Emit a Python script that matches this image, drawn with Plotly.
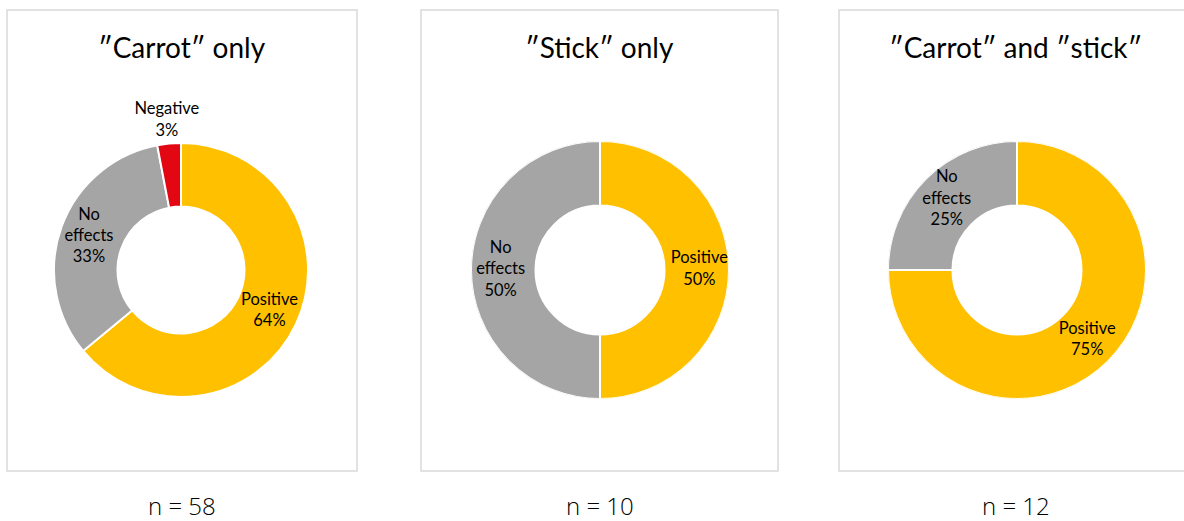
import plotly.graph_objects as go

# Survey outcome shares per incentive scheme
schemes = ["″Carrot″ only", "″Stick″ only", "″Carrot″ and ″stick″"]
sample_sizes = [58, 10, 12]

categories_1 = ["Positive", "No effects", "Negative"]
shares_1 = [64, 33, 3]

categories_2 = ["Positive", "No effects"]
shares_2 = [50, 50]

categories_3 = ["Positive", "No effects"]
shares_3 = [75, 25]

COLORS = {"Positive": "#FFC000", "No effects": "#A5A5A5", "Negative": "#E30613"}
W, H = 1184, 521
FONT = "Lato"
HOLE = 0.5                      # inner radius as a fraction of the outer radius
INSIDE_R, OUTSIDE_R = 0.77, 1.18

# Pixel geometry of each panel: frame box and donut centre / outer radius
frames = [(7, 10, 357, 471), (421, 10, 778, 471), (839, 10, 1192, 471)]
centres = [(181, 270, 127), (600, 270, 129), (1017, 270, 129)]


def pixel_domain(cx, cy, r):
    return dict(x=[max(0, (cx - r) / W), min(1, (cx + r) / W)],
                y=[max(0, 1 - (cy + r) / H), min(1, 1 - (cy - r) / H)])


fig = go.Figure()
layout_polars = {}

datasets = [(categories_1, shares_1), (categories_2, shares_2), (categories_3, shares_3)]
for i, ((cats, vals), (cx, cy, r)) in enumerate(zip(datasets, centres)):
    total = sum(vals)
    widths = [v / total * 360 for v in vals]
    mids, running = [], 0
    for w in widths:
        mids.append(running + w / 2)
        running += w

    pad = 1.3 if "Negative" in cats else 1.0
    pname = "polar" if i == 0 else f"polar{i + 1}"

    # donut ring: one polar bar per outcome, spanning its share of the circle
    fig.add_trace(go.Barpolar(
        theta=mids, width=widths,
        r=[1 - HOLE] * len(vals), base=[HOLE] * len(vals),
        marker=dict(color=[COLORS[c] for c in cats], line=dict(color="white", width=2)),
        customdata=[[c, round(v / total * 100)] for c, v in zip(cats, vals)],
        hovertemplate="%{customdata[0]}: %{customdata[1]}%<extra></extra>",
        subplot=pname, showlegend=False,
    ))

    # slice labels at each slice's mid angle
    radii = [OUTSIDE_R if c == "Negative" else INSIDE_R for c in cats]
    texts = [f"{c.replace(' ', '<br>')}<br>{round(v / total * 100)}%" for c, v in zip(cats, vals)]
    fig.add_trace(go.Scatterpolar(
        r=radii, theta=mids, text=texts, mode="text",
        textposition="middle center",
        textfont=dict(family=FONT, size=16.5, color="#000000"),
        subplot=pname, showlegend=False, hoverinfo="skip", cliponaxis=False,
    ))

    layout_polars[pname] = dict(
        domain=pixel_domain(cx, cy, r * pad),
        bgcolor="rgba(0,0,0,0)",
        bargap=0,
        radialaxis=dict(visible=False, range=[0, pad]),
        angularaxis=dict(visible=False, rotation=90, direction="clockwise",
                         showgrid=False, showline=False),
    )

shapes = []
annotations = []
for (x0, y0, x1, y1), title, n in zip(frames, schemes, sample_sizes):
    shapes.append(dict(type="rect", xref="paper", yref="paper",
                       x0=x0 / W, x1=x1 / W, y0=1 - y1 / H, y1=1 - y0 / H,
                       line=dict(color="#D9D9D9", width=1.5), fillcolor="rgba(0,0,0,0)"))
    xc = (x0 + x1) / 2 / W
    annotations.append(dict(text=title, x=xc, y=1 - 47 / H, xref="paper", yref="paper",
                            xanchor="center", yanchor="middle", showarrow=False,
                            font=dict(family=FONT, size=28, color="#000000")))
    annotations.append(dict(text=f"n = {n}", x=xc, y=1 - 505 / H, xref="paper", yref="paper",
                            xanchor="center", yanchor="middle", showarrow=False,
                            font=dict(family="Open Sans", size=24, color="#000000", weight=300)))

fig.update_layout(
    width=W, height=H,
    margin=dict(l=0, r=0, t=0, b=0),
    paper_bgcolor="white",
    plot_bgcolor="white",
    shapes=shapes,
    annotations=annotations,
    **layout_polars,
)

fig.write_html("out.html")
